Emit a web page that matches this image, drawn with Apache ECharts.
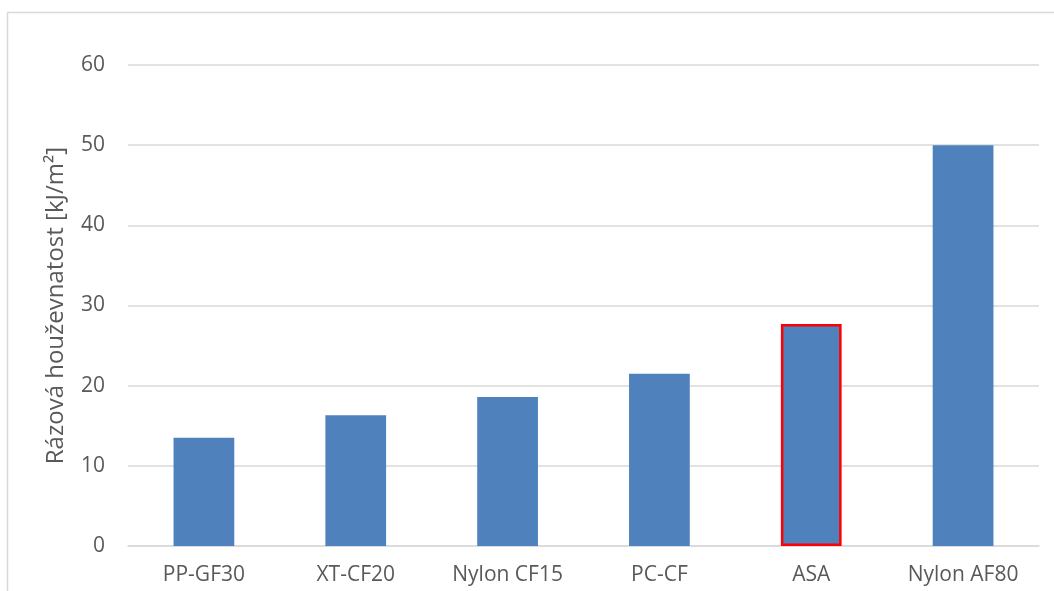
<!DOCTYPE html>
<html><head><meta charset="utf-8">
<script src="https://cdn.jsdelivr.net/npm/echarts@6/dist/echarts.min.js"></script>
<style>html,body{margin:0;padding:0;background:#fff}#c{width:1054px;height:591px}</style>
</head><body><div id="c"></div>
<script>
const categories = ['PP-GF30', 'XT-CF20', 'Nylon CF15', 'PC-CF', 'ASA', 'Nylon AF80'];
const values = [13.5, 16.3, 18.6, 21.5, 27.7, 50.0];
const yTicks = [0, 10, 20, 30, 40, 50, 60];
const highlighted = 'ASA';

const chart = echarts.init(document.getElementById('c'), null, {renderer: 'canvas'});
const font = 'Open Sans, Liberation Sans, sans-serif';
chart.setOption({
  animation: false,
  backgroundColor: '#fff',
  graphic: [{type: 'rect', shape: {x: 7.5, y: 12.5, width: 1100, height: 700}, style: {fill: 'none', stroke: '#d9d9d9', lineWidth: 1.5}, silent: true}],
  grid: {left: 128, right: 15, top: 65, bottom: 45, containLabel: false},
  xAxis: {
    type: 'category', data: categories,
    axisLine: {show: true, lineStyle: {color: '#d9d9d9', width: 1.5}},
    axisTick: {show: false},
    axisLabel: {color: '#595959', fontSize: 21, fontFamily: font, margin: 19}
  },
  yAxis: {
    type: 'value', min: yTicks[0], max: yTicks[yTicks.length - 1], interval: 10,
    name: 'Rázová houževnatost [kJ/m²]', nameLocation: 'middle', nameGap: 60, nameRotate: 90,
    nameTextStyle: {color: '#595959', fontSize: 24, fontFamily: font},
    axisLine: {show: false}, axisTick: {show: false},
    axisLabel: {color: '#595959', fontSize: 21, fontFamily: font, margin: 23},
    splitLine: {lineStyle: {color: '#d9d9d9', width: 1.5}}
  },
  series: [{
    type: 'bar', barWidth: '40%',
    data: values.map((v, i) => categories[i] === highlighted
      ? {value: v, itemStyle: {color: '#4f81bd', borderColor: '#ff0000', borderWidth: 2.5}}
      : {value: v}),
    itemStyle: {color: '#4f81bd'}
  }]
});
</script></body></html>
